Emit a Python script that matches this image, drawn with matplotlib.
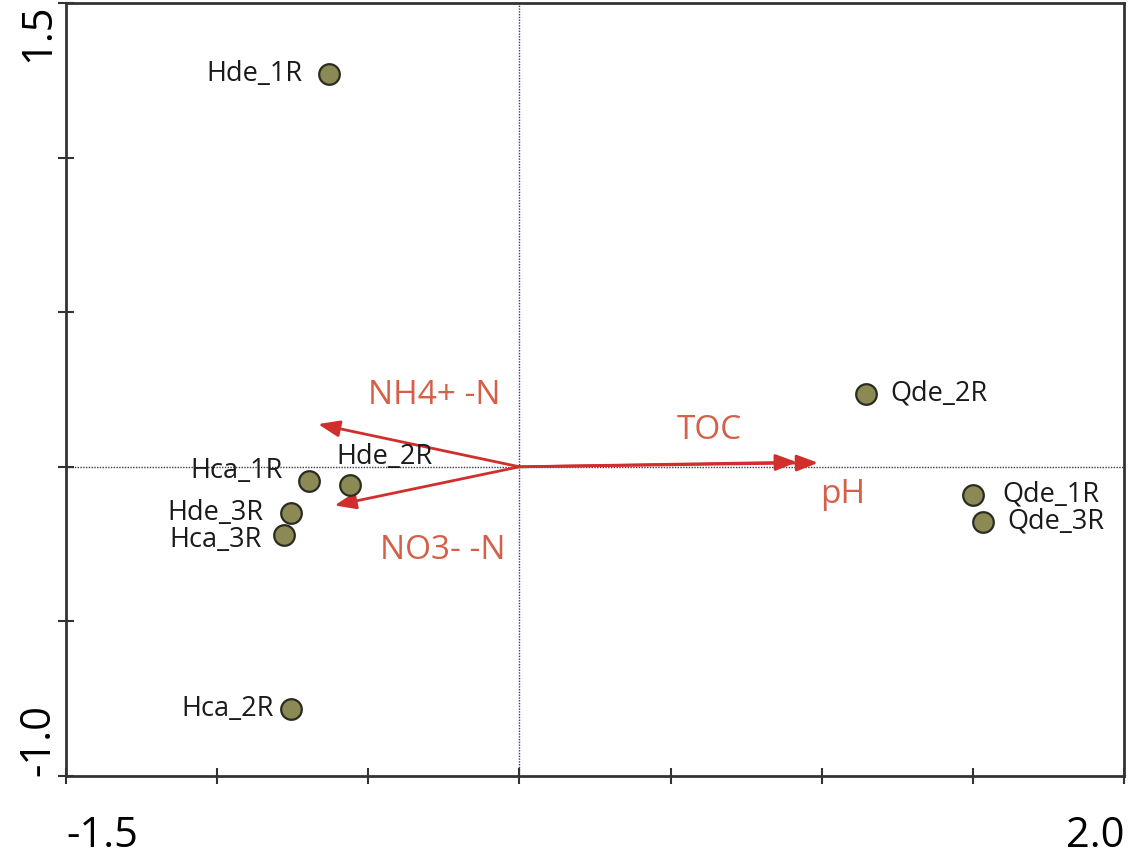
'''
Redraw of an RDA biplot: sample scores as points, soil variables as arrows.
'''
import numpy as np
import matplotlib
matplotlib.use('Agg')
import matplotlib.pyplot as plt

plt.rcParams['font.family'] = ['Open Sans', 'DejaVu Sans']

# sample scores
samples = ['Hde_1R', 'Qde_2R', 'Qde_1R', 'Qde_3R', 'Hca_1R',
           'Hde_2R', 'Hde_3R', 'Hca_3R', 'Hca_2R']
sample_x = [-0.63, 1.146, 1.50, 1.533, -0.696, -0.561, -0.756, -0.779, -0.756]
sample_y = [1.27, 0.237, -0.09, -0.177, -0.045, -0.058, -0.148, -0.219, -0.783]

# environmental variables (arrow tips)
env_vars = ['NH4+ -N', 'NO3- -N', 'TOC', 'pH']
env_x = [-0.666, -0.612, 0.918, 0.988]
env_y = [0.138, -0.125, 0.015, 0.013]

x_ticks = [-1.5, -1.0, -0.5, 0.0, 0.5, 1.0, 1.5, 2.0]
y_ticks = [-1.0, -0.5, 0.0, 0.5, 1.0, 1.5]

# label offsets (style only): points for samples, data units for variables
sample_off = {'Hde_1R': (-19, 0, 'right'), 'Qde_2R': (18, 0, 'left'),
              'Qde_1R': (21, 0, 'left'), 'Qde_3R': (18, 0, 'left'),
              'Hca_1R': (-19, 7, 'right'), 'Hde_2R': (25, 20, 'center'),
              'Hde_3R': (-20, 0, 'right'), 'Hca_3R': (-16, -4, 'right'),
              'Hca_2R': (-12, 0, 'right')}
env_off = {'NH4+ -N': (0.383, 0.093), 'NO3- -N': (0.359, -0.146),
           'TOC': (-0.288, 0.102), 'pH': (0.082, -0.103)}

fig = plt.figure(figsize=(11.29, 8.55), dpi=100)
ax = fig.add_axes([66/1129, 79/855, 1058/1129, 773/855])

ax.axhline(0, color='#3a3a48', lw=1.0, ls=(0, (1, 1)), zorder=1)
ax.axvline(0, color='#2e3e66', lw=1.0, ls=(0, (1, 1)), zorder=1)

arrow_col = '#d12e2e'
text_col = '#d5604a'
for name, ex, ey in zip(env_vars, env_x, env_y):
    ax.annotate('', xy=(ex, ey), xytext=(0, 0),
                arrowprops=dict(arrowstyle='-|>,head_length=1.3,head_width=0.5',
                                color=arrow_col, lw=2.0, shrinkA=0, shrinkB=0),
                zorder=2)
    dx, dy = env_off[name]
    ax.text(ex + dx, ey + dy, name, color=text_col, fontsize=24,
            ha='center', va='center', zorder=3)

ax.scatter(sample_x, sample_y, s=220, c='#8b8a55', edgecolors='#2b2b22',
           linewidths=1.6, zorder=4)
for name, sx, sy in zip(samples, sample_x, sample_y):
    ox, oy, ha = sample_off[name]
    ax.annotate(name, (sx, sy), xytext=(ox, oy), textcoords='offset points',
                ha=ha, va='center', fontsize=19.5, color='#1a1a1a', zorder=5)

ax.set_xlim(-1.5, 2.0)
ax.set_ylim(-1.0, 1.5)
ax.set_xticks(x_ticks)
ax.set_yticks(y_ticks)
ax.set_xticklabels(['-1.5'] + [''] * (len(x_ticks) - 2) + ['2.0'], fontsize=30)
ax.set_yticklabels(['-1.0'] + [''] * (len(y_ticks) - 2) + ['1.5'],
                   fontsize=30, rotation=90)
xl = ax.get_xticklabels()
xl[0].set_ha('left')
xl[-1].set_ha('right')
yl = ax.get_yticklabels()
yl[0].set_va('bottom')
yl[-1].set_va('top')
for lab in yl:
    lab.set_ha('center')
ax.tick_params(axis='x', direction='inout', length=12, width=1.5, pad=22,
               color='#333333')
ax.tick_params(axis='y', direction='inout', length=12, width=1.5, pad=14,
               color='#333333')
for s in ax.spines.values():
    s.set_linewidth(2)
    s.set_color('#333333')

fig.savefig('out.png', dpi=100)
